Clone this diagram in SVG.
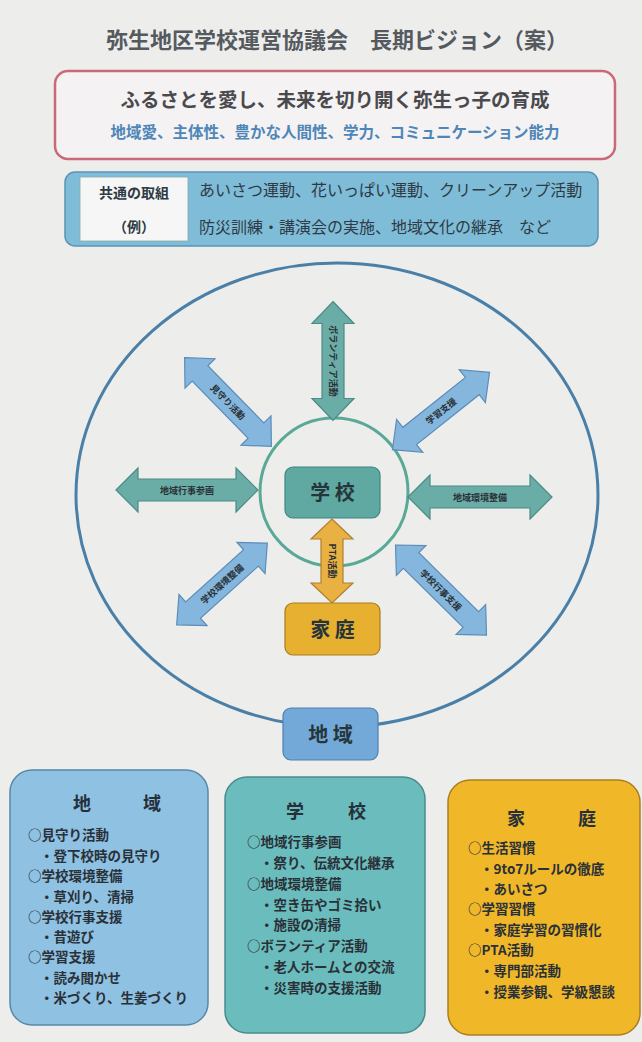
<svg xmlns="http://www.w3.org/2000/svg" width="642" height="1042" viewBox="0 0 642 1042">
<style>
text{font-family:"Noto Sans CJK JP","Noto Sans CJK SC",sans-serif;}
.title{font-size:22px;font-weight:bold;fill:#555a60;}
.main{font-size:19.5px;font-weight:bold;fill:#4a4a4e;}
.sub{font-size:15.5px;font-weight:bold;fill:#4f86b8;}
.common{font-size:16px;fill:#2e3a44;}
.lbl{font-size:14px;font-weight:bold;fill:#2e3a44;}
.node{font-size:20px;font-weight:bold;fill:#26353a;}
.arrowtxt{font-size:9px;font-weight:bold;fill:#2a3036;}
.head{font-size:18px;font-weight:bold;fill:#26303a;}
.item{font-size:13.5px;font-weight:bold;fill:#2a3038;}
.ablue{fill:#85b7de;stroke:#5c8cb8;stroke-width:1.2;}
.ateal{fill:#6aaca6;stroke:#4c8a86;stroke-width:1.2;}
.aorange{fill:#e9b042;stroke:#b08030;stroke-width:1.2;}
</style>
<rect x="0" y="0" width="642" height="1042" fill="#edeeec"/>

<g id="title">
<text class="title" x="337" y="48" text-anchor="middle">弥生地区学校運営協議会　長期ビジョン（案）</text>
</g>

<g id="vision">
<rect x="55" y="71" width="560" height="88" rx="13" fill="#f4f2f2" stroke="#c86a78" stroke-width="2.5"/>
<text class="main" x="335" y="107" text-anchor="middle">ふるさとを愛し、未来を切り開く弥生っ子の育成</text>
<text class="sub" x="335" y="138" text-anchor="middle">地域愛、主体性、豊かな人間性、学力、コミュニケーション能力</text>
</g>

<g id="common">
<rect x="65" y="172" width="533" height="74" rx="10" fill="#7ebcd8" stroke="#5a94b4" stroke-width="1.5"/>
<rect x="80" y="177" width="108" height="64" fill="#f6f6f6" stroke="#8aa" stroke-width="0.8"/>
<text class="lbl" x="134" y="198" text-anchor="middle">共通の取組</text>
<text class="lbl" x="134" y="232" text-anchor="middle">（例）</text>
<text class="common" x="199" y="196">あいさつ運動、花いっぱい運動、クリーンアップ活動</text>
<text class="common" x="199" y="233">防災訓練・講演会の実施、地域文化の継承　など</text>
</g>

<g id="outer-circle">
<ellipse cx="337" cy="495" rx="261" ry="232" fill="none" stroke="#4a7fa8" stroke-width="3"/>
</g>
<g id="inner-circle">
<circle cx="334" cy="492" r="74" fill="none" stroke="#5aa898" stroke-width="3"/>
</g>

<g id="connectors">
<g transform="translate(333,361) rotate(90)">
<path class="ateal" d="M-59.5 0 L-37.5 -21 L-37.5 -11 L37.5 -11 L37.5 -21 L59.5 0 L37.5 21 L37.5 11 L-37.5 11 L-37.5 21 Z"/>
<text class="arrowtxt" x="0" y="3.5" text-anchor="middle">ボランティア活動</text>
</g>
<g transform="translate(228,402) rotate(45.6)">
<path class="ablue" d="M-62 0 L-40 -21 L-40 -11 L40 -11 L40 -21 L62 0 L40 21 L40 11 L-40 11 L-40 21 Z"/>
<text class="arrowtxt" x="0" y="3.5" text-anchor="middle">見守り活動</text>
</g>
<g transform="translate(441,411) rotate(-38.5)">
<path class="ablue" d="M-62 0 L-40 -21 L-40 -11 L40 -11 L40 -21 L62 0 L40 21 L40 11 L-40 11 L-40 21 Z"/>
<text class="arrowtxt" x="0" y="3.5" text-anchor="middle">学習支援</text>
</g>
<g transform="translate(187,490)">
<path class="ateal" d="M-71 0 L-49 -22 L-49 -11 L49 -11 L49 -22 L71 0 L49 22 L49 11 L-49 11 L-49 22 Z"/>
<text class="arrowtxt" x="0" y="3.5" text-anchor="middle">地域行事参画</text>
</g>
<g transform="translate(480,497)">
<path class="ateal" d="M-72 0 L-50 -22 L-50 -11 L50 -11 L50 -22 L72 0 L50 22 L50 11 L-50 11 L-50 22 Z"/>
<text class="arrowtxt" x="0" y="3.5" text-anchor="middle">地域環境整備</text>
</g>
<g transform="translate(222,584) rotate(-42)">
<path class="ablue" d="M-61 0 L-39 -21 L-39 -11 L39 -11 L39 -21 L61 0 L39 21 L39 11 L-39 11 L-39 21 Z"/>
<text class="arrowtxt" x="0" y="3.5" text-anchor="middle">学校環境整備</text>
</g>
<g transform="translate(441,590) rotate(44.7)">
<path class="ablue" d="M-64 0 L-42 -21 L-42 -11 L42 -11 L42 -21 L64 0 L42 21 L42 11 L-42 11 L-42 21 Z"/>
<text class="arrowtxt" x="0" y="3.5" text-anchor="middle">学校行事支援</text>
</g>
<g transform="translate(332,561) rotate(90)">
<path class="aorange" d="M-42 0 L-22 -21 L-22 -11 L22 -11 L22 -21 L42 0 L22 21 L22 11 L-22 11 L-22 21 Z"/>
<text class="arrowtxt" x="0" y="3.5" text-anchor="middle">PTA活動</text>
</g>
</g>

<g id="node-school">
<rect x="285" y="467" width="95" height="51" rx="8" fill="#5fa9a2" stroke="#3f8680" stroke-width="1.2"/>
<text class="node" x="332.5" y="500" text-anchor="middle">学 校</text>
</g>
<g id="node-home">
<rect x="285" y="603" width="95" height="52" rx="8" fill="#e8b030" stroke="#a87c20" stroke-width="1.2"/>
<text class="node" x="332.5" y="637" text-anchor="middle">家 庭</text>
</g>
<g id="node-region">
<rect x="283" y="708" width="95" height="52" rx="8" fill="#73a9d8" stroke="#4f80b0" stroke-width="1.2"/>
<text class="node" x="330.5" y="742" text-anchor="middle">地 域</text>
</g>

<g id="box-region">
<rect x="10" y="770" width="198" height="255" rx="22" fill="#8ec1e2" stroke="#5a88a8" stroke-width="1.5"/>
<text class="head" x="82" y="810" text-anchor="middle">地</text>
<text class="head" x="152" y="810" text-anchor="middle">域</text>
<text class="item" x="28" y="840">○見守り活動</text>
<text class="item" x="40" y="861">・登下校時の見守り</text>
<text class="item" x="28" y="881">○学校環境整備</text>
<text class="item" x="40" y="902">・草刈り、清掃</text>
<text class="item" x="28" y="922">○学校行事支援</text>
<text class="item" x="40" y="942">・昔遊び</text>
<text class="item" x="28" y="962">○学習支援</text>
<text class="item" x="40" y="983">・読み聞かせ</text>
<text class="item" x="40" y="1003">・米づくり、生姜づくり</text>
</g>

<g id="box-school">
<rect x="225" y="777" width="200" height="256" rx="22" fill="#6bbcbc" stroke="#4a8c8c" stroke-width="1.5"/>
<text class="head" x="295" y="818" text-anchor="middle">学</text>
<text class="head" x="357" y="818" text-anchor="middle">校</text>
<text class="item" x="247" y="847">○地域行事参画</text>
<text class="item" x="260" y="868">・祭り、伝統文化継承</text>
<text class="item" x="247" y="889">○地域環境整備</text>
<text class="item" x="260" y="910">・空き缶やゴミ拾い</text>
<text class="item" x="260" y="930">・施設の清掃</text>
<text class="item" x="247" y="951">○ボランティア活動</text>
<text class="item" x="260" y="972">・老人ホームとの交流</text>
<text class="item" x="260" y="993">・災害時の支援活動</text>
</g>

<g id="box-home">
<rect x="448" y="780" width="192" height="255" rx="22" fill="#f0b828" stroke="#a88020" stroke-width="1.5"/>
<text class="head" x="516" y="825" text-anchor="middle">家</text>
<text class="head" x="587" y="825" text-anchor="middle">庭</text>
<text class="item" x="468" y="853">○生活習慣</text>
<text class="item" x="480" y="874">・9to7ルールの徹底</text>
<text class="item" x="480" y="894">・あいさつ</text>
<text class="item" x="468" y="914">○学習習慣</text>
<text class="item" x="480" y="935">・家庭学習の習慣化</text>
<text class="item" x="468" y="955">○PTA活動</text>
<text class="item" x="480" y="976">・専門部活動</text>
<text class="item" x="480" y="997">・授業参観、学級懇談</text>
</g>
</svg>
